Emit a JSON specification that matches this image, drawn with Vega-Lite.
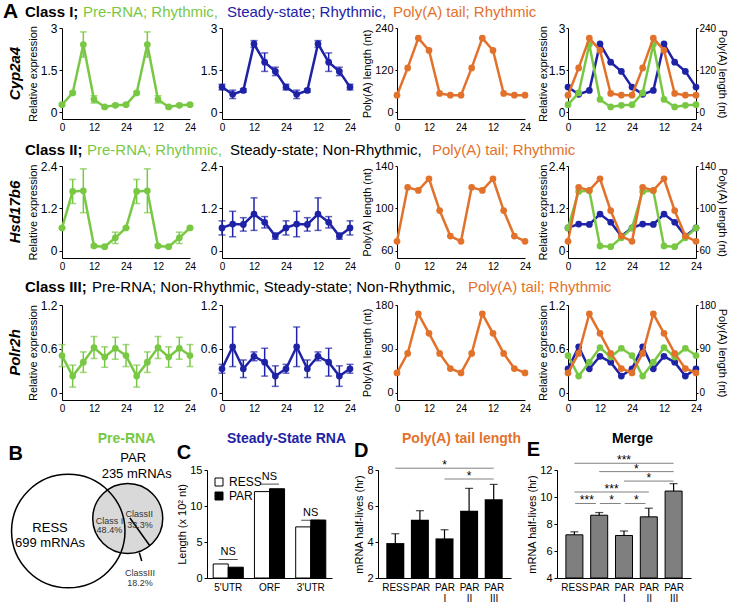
{
"$schema":"https://vega.github.io/schema/vega-lite/v6.json",
"background":"white",
"padding":{"left":3,"top":1,"right":0,"bottom":0},
"config":{"font":"Liberation Sans","view":{"stroke":null},"axis":{"grid":false,"domainColor":"black","tickColor":"black","labelColor":"black","titleColor":"black","labelFontSize":12,"titleFontSize":11,"titleFontWeight":"normal","tickSize":3,"labelPadding":2,"titlePadding":2}},
"datasets":{
"hdr":[
{"r":1,"k":0,"txt":"A","c":"k"},{"r":1,"k":1,"txt":"Class I;","c":"k"},{"r":1,"k":2,"txt":"Pre-RNA; Rhythmic,","c":"g"},{"r":1,"k":3,"txt":"Steady-state; Rhythmic,","c":"b"},{"r":1,"k":4,"txt":"Poly(A) tail; Rhythmic","c":"o"},
{"r":2,"k":1,"txt":"Class II;","c":"k"},{"r":2,"k":2,"txt":"Pre-RNA; Rhythmic,","c":"g"},{"r":2,"k":3,"txt":"Steady-state; Non-Rhythmic,","c":"k"},{"r":2,"k":4,"txt":"Poly(A) tail; Rhythmic","c":"o"},
{"r":3,"k":1,"txt":"Class III;","c":"k"},{"r":3,"k":2,"txt":"Pre-RNA; Non-Rhythmic, Steady-state; Non-Rhythmic,","c":"k"},{"r":3,"k":4,"txt":"Poly(A) tail; Rhythmic","c":"o"}
],
"ld":[{"t":0,"t2":12,"ph":"L"},{"t":12,"t2":24,"ph":"D"},{"t":24,"t2":36,"ph":"L"},{"t":36,"t2":48,"ph":"D"}],
"ts":[
{"g":"Cyp2a4","k":"pre","t":0,"v":0.26,"e":0.04},{"g":"Cyp2a4","k":"pre","t":4,"v":0.68,"e":0.05},{"g":"Cyp2a4","k":"pre","t":8,"v":2.41,"e":0.45},{"g":"Cyp2a4","k":"pre","t":12,"v":0.45,"e":0.13},{"g":"Cyp2a4","k":"pre","t":16,"v":0.18,"e":0.04},{"g":"Cyp2a4","k":"pre","t":20,"v":0.24,"e":0.04},{"g":"Cyp2a4","k":"pre","t":24,"v":0.26,"e":0.04},{"g":"Cyp2a4","k":"pre","t":28,"v":0.68,"e":0.05},{"g":"Cyp2a4","k":"pre","t":32,"v":2.41,"e":0.45},{"g":"Cyp2a4","k":"pre","t":36,"v":0.45,"e":0.13},{"g":"Cyp2a4","k":"pre","t":40,"v":0.18,"e":0.04},{"g":"Cyp2a4","k":"pre","t":44,"v":0.24,"e":0.04},{"g":"Cyp2a4","k":"pre","t":48,"v":0.26,"e":0.04},
{"g":"Cyp2a4","k":"ss","t":0,"v":0.89,"e":0.1},{"g":"Cyp2a4","k":"ss","t":4,"v":0.63,"e":0.15},{"g":"Cyp2a4","k":"ss","t":8,"v":0.77,"e":0.06},{"g":"Cyp2a4","k":"ss","t":12,"v":2.43,"e":0.12},{"g":"Cyp2a4","k":"ss","t":16,"v":1.78,"e":0.33},{"g":"Cyp2a4","k":"ss","t":20,"v":1.45,"e":0.15},{"g":"Cyp2a4","k":"ss","t":24,"v":0.89,"e":0.1},{"g":"Cyp2a4","k":"ss","t":28,"v":0.63,"e":0.15},{"g":"Cyp2a4","k":"ss","t":32,"v":0.77,"e":0.06},{"g":"Cyp2a4","k":"ss","t":36,"v":2.43,"e":0.12},{"g":"Cyp2a4","k":"ss","t":40,"v":1.78,"e":0.33},{"g":"Cyp2a4","k":"ss","t":44,"v":1.45,"e":0.15},{"g":"Cyp2a4","k":"ss","t":48,"v":0.89,"e":0.1},
{"g":"Cyp2a4","k":"pa","t":0,"v":48},{"g":"Cyp2a4","k":"pa","t":4,"v":126},{"g":"Cyp2a4","k":"pa","t":8,"v":211},{"g":"Cyp2a4","k":"pa","t":12,"v":176},{"g":"Cyp2a4","k":"pa","t":16,"v":53},{"g":"Cyp2a4","k":"pa","t":20,"v":48},{"g":"Cyp2a4","k":"pa","t":24,"v":48},{"g":"Cyp2a4","k":"pa","t":28,"v":126},{"g":"Cyp2a4","k":"pa","t":32,"v":211},{"g":"Cyp2a4","k":"pa","t":36,"v":176},{"g":"Cyp2a4","k":"pa","t":40,"v":53},{"g":"Cyp2a4","k":"pa","t":44,"v":48},{"g":"Cyp2a4","k":"pa","t":48,"v":48},
{"g":"Hsd17b6","k":"pre","t":0,"v":0.65,"e":0.02},{"g":"Hsd17b6","k":"pre","t":4,"v":1.68,"e":0.34},{"g":"Hsd17b6","k":"pre","t":8,"v":1.7,"e":0.62},{"g":"Hsd17b6","k":"pre","t":12,"v":0.14,"e":0.03},{"g":"Hsd17b6","k":"pre","t":16,"v":0.12,"e":0.03},{"g":"Hsd17b6","k":"pre","t":20,"v":0.37,"e":0.16},{"g":"Hsd17b6","k":"pre","t":24,"v":0.65,"e":0.02},{"g":"Hsd17b6","k":"pre","t":28,"v":1.68,"e":0.34},{"g":"Hsd17b6","k":"pre","t":32,"v":1.7,"e":0.62},{"g":"Hsd17b6","k":"pre","t":36,"v":0.14,"e":0.03},{"g":"Hsd17b6","k":"pre","t":40,"v":0.12,"e":0.03},{"g":"Hsd17b6","k":"pre","t":44,"v":0.37,"e":0.16},{"g":"Hsd17b6","k":"pre","t":48,"v":0.65,"e":0.02},
{"g":"Hsd17b6","k":"ss","t":0,"v":0.65,"e":0.2},{"g":"Hsd17b6","k":"ss","t":4,"v":0.76,"e":0.36},{"g":"Hsd17b6","k":"ss","t":8,"v":0.75,"e":0.19},{"g":"Hsd17b6","k":"ss","t":12,"v":1.04,"e":0.46},{"g":"Hsd17b6","k":"ss","t":16,"v":0.81,"e":0.16},{"g":"Hsd17b6","k":"ss","t":20,"v":0.42,"e":0.09},{"g":"Hsd17b6","k":"ss","t":24,"v":0.65,"e":0.2},{"g":"Hsd17b6","k":"ss","t":28,"v":0.76,"e":0.36},{"g":"Hsd17b6","k":"ss","t":32,"v":0.75,"e":0.19},{"g":"Hsd17b6","k":"ss","t":36,"v":1.04,"e":0.46},{"g":"Hsd17b6","k":"ss","t":40,"v":0.81,"e":0.16},{"g":"Hsd17b6","k":"ss","t":44,"v":0.42,"e":0.09},{"g":"Hsd17b6","k":"ss","t":48,"v":0.65,"e":0.2},
{"g":"Hsd17b6","k":"pa","t":0,"v":69},{"g":"Hsd17b6","k":"pa","t":4,"v":120},{"g":"Hsd17b6","k":"pa","t":8,"v":117},{"g":"Hsd17b6","k":"pa","t":12,"v":128},{"g":"Hsd17b6","k":"pa","t":16,"v":98},{"g":"Hsd17b6","k":"pa","t":20,"v":74},{"g":"Hsd17b6","k":"pa","t":24,"v":69},{"g":"Hsd17b6","k":"pa","t":28,"v":120},{"g":"Hsd17b6","k":"pa","t":32,"v":117},{"g":"Hsd17b6","k":"pa","t":36,"v":128},{"g":"Hsd17b6","k":"pa","t":40,"v":98},{"g":"Hsd17b6","k":"pa","t":44,"v":74},{"g":"Hsd17b6","k":"pa","t":48,"v":69},
{"g":"Polr2h","k":"pre","t":0,"v":0.51,"e":0.15},{"g":"Polr2h","k":"pre","t":4,"v":0.23,"e":0.15},{"g":"Polr2h","k":"pre","t":8,"v":0.42,"e":0.14},{"g":"Polr2h","k":"pre","t":12,"v":0.62,"e":0.15},{"g":"Polr2h","k":"pre","t":16,"v":0.49,"e":0.14},{"g":"Polr2h","k":"pre","t":20,"v":0.61,"e":0.15},{"g":"Polr2h","k":"pre","t":24,"v":0.51,"e":0.15},{"g":"Polr2h","k":"pre","t":28,"v":0.23,"e":0.15},{"g":"Polr2h","k":"pre","t":32,"v":0.42,"e":0.14},{"g":"Polr2h","k":"pre","t":36,"v":0.62,"e":0.15},{"g":"Polr2h","k":"pre","t":40,"v":0.49,"e":0.14},{"g":"Polr2h","k":"pre","t":44,"v":0.61,"e":0.15},{"g":"Polr2h","k":"pre","t":48,"v":0.51,"e":0.15},
{"g":"Polr2h","k":"ss","t":0,"v":0.33,"e":0.06},{"g":"Polr2h","k":"ss","t":4,"v":0.63,"e":0.27},{"g":"Polr2h","k":"ss","t":8,"v":0.33,"e":0.12},{"g":"Polr2h","k":"ss","t":12,"v":0.5,"e":0.06},{"g":"Polr2h","k":"ss","t":16,"v":0.42,"e":0.19},{"g":"Polr2h","k":"ss","t":20,"v":0.23,"e":0.14},{"g":"Polr2h","k":"ss","t":24,"v":0.33,"e":0.06},{"g":"Polr2h","k":"ss","t":28,"v":0.63,"e":0.27},{"g":"Polr2h","k":"ss","t":32,"v":0.33,"e":0.12},{"g":"Polr2h","k":"ss","t":36,"v":0.5,"e":0.06},{"g":"Polr2h","k":"ss","t":40,"v":0.42,"e":0.19},{"g":"Polr2h","k":"ss","t":44,"v":0.23,"e":0.14},{"g":"Polr2h","k":"ss","t":48,"v":0.33,"e":0.06},
{"g":"Polr2h","k":"pa","t":0,"v":41},{"g":"Polr2h","k":"pa","t":4,"v":81},{"g":"Polr2h","k":"pa","t":8,"v":162},{"g":"Polr2h","k":"pa","t":12,"v":122},{"g":"Polr2h","k":"pa","t":16,"v":81},{"g":"Polr2h","k":"pa","t":20,"v":50},{"g":"Polr2h","k":"pa","t":24,"v":41},{"g":"Polr2h","k":"pa","t":28,"v":81},{"g":"Polr2h","k":"pa","t":32,"v":162},{"g":"Polr2h","k":"pa","t":36,"v":122},{"g":"Polr2h","k":"pa","t":40,"v":81},{"g":"Polr2h","k":"pa","t":44,"v":50},{"g":"Polr2h","k":"pa","t":48,"v":41}
],
"sets":[{"set":"RESS","n":699,"u":39.0,"w":29.9},{"set":"PAR","n":235,"u":76.9,"w":37.9}],
"vlines":[{"u":78.3,"w":38.2,"u2":91.1,"w2":20.4},{"u":84.3,"w":16.1,"u2":85.8,"w2":10.8}],
"vlab":[
{"kind":"set","lbl":"RESS","u":27.4,"w":31.8},{"kind":"set","lbl":"699 mRNAs","u":27.4,"w":22.5},{"kind":"set","lbl":"PAR","u":80.4,"w":76.6},{"kind":"set","lbl":"235 mRNAs","u":82.6,"w":66.4},
{"kind":"class","lbl":"Class I","u":65.2,"w":36.3},{"kind":"class","lbl":"48.4%","u":65.2,"w":30.4},{"kind":"class","lbl":"ClassII","u":84.3,"w":40.6},{"kind":"class","lbl":"33.3%","u":84.7,"w":33.8},{"kind":"class","lbl":"ClassIII","u":84.7,"w":3.4},{"kind":"class","lbl":"18.2%","u":84.7,"w":-3.0}
],
"len":[{"reg":"5'UTR","set":"RESS","len":1.95},{"reg":"5'UTR","set":"PAR","len":1.5},{"reg":"ORF","set":"RESS","len":12.0},{"reg":"ORF","set":"PAR","len":12.4},{"reg":"3'UTR","set":"RESS","len":7.1},{"reg":"3'UTR","set":"PAR","len":8.05}],
"ns":[{"reg":"5'UTR","y":2.57,"lbl":"NS"},{"reg":"ORF","y":13.04,"lbl":"NS"},{"reg":"3'UTR","y":8.02,"lbl":"NS"}],
"hl":[
{"p":"D","grp":"RESS","i":1,"v":3.94,"e":0.52},{"p":"D","grp":"PAR","i":2,"v":5.24,"e":0.5},{"p":"D","grp":"PAR I","i":3,"v":4.2,"e":0.48},{"p":"D","grp":"PAR II","i":4,"v":5.74,"e":1.24},{"p":"D","grp":"PAR III","i":5,"v":6.38,"e":0.82},
{"p":"E","grp":"RESS","i":1,"v":7.2,"e":0.22},{"p":"E","grp":"PAR","i":2,"v":8.65,"e":0.2},{"p":"E","grp":"PAR I","i":3,"v":7.15,"e":0.33},{"p":"E","grp":"PAR II","i":4,"v":8.53,"e":0.64},{"p":"E","grp":"PAR III","i":5,"v":10.44,"e":0.55}
],
"sig":[
{"p":"D","a":1,"b":5,"y":8.1,"s":"*"},{"p":"D","a":3,"b":5,"y":7.5,"s":"*"},
{"p":"E","a":1,"b":5,"y":12.5,"s":"***"},{"p":"E","a":2,"b":5,"y":11.88,"s":"*"},{"p":"E","a":3,"b":5,"y":11.18,"s":"*"},{"p":"E","a":1,"b":4,"y":10.37,"s":"***"},{"p":"E","a":1,"b":2,"y":9.52,"s":"***"},{"p":"E","a":2,"b":3,"y":9.52,"s":"*"},{"p":"E","a":3,"b":4,"y":9.52,"s":"*"}
]
},
"spacing":-5,
"vconcat":[
{"spacing":0,"vconcat":[
{"width":600,"height":20,"data":{"name":"hdr"},"transform":[{"filter":"datum.r == 1"}],
 "encoding":{"x":{"field":"k","type":"quantitative","scale":{"type":"linear","domain":[0,1,2,3,4],"range":[-59,-37,21,165,331]},"axis":null},"text":{"field":"txt"}},
 "layer":[
  {"transform":[{"filter":"datum.k == 0"}],"mark":{"type":"text","align":"left","baseline":"middle","fontSize":21,"fontWeight":"bold","dy":1}},
  {"transform":[{"filter":"datum.k == 1"}],"mark":{"type":"text","align":"left","baseline":"middle","fontSize":15,"fontWeight":"bold","dy":1}},
  {"transform":[{"filter":"datum.k >= 2"}],"mark":{"type":"text","align":"left","baseline":"middle","fontSize":15,"dy":1},"encoding":{"color":{"field":"c","type":"nominal","scale":{"domain":["k","g","b","o"],"range":["black","#79c843","#1e22a6","#e2722b"]},"legend":null}}}
 ]},
{"bounds":"flush","spacing":0,"hconcat":[
 {"width":128,"height":91,"title":{"text":"Cyp2a4","orient":"left","fontSize":15,"fontStyle":"italic","fontWeight":"bold","offset":4},
  "encoding":{"x":{"field":"t","type":"quantitative","scale":{"domain":[0,48],"nice":false,"range":[0,128]},"axis":{"values":[0,12,24,36,48],"labelExpr":"datum.value > 24 ? '' + (datum.value - 24) : datum.label","labelFlush":false,"labelOverlap":false,"ticks":false,"tickSize":0,"labelPadding":3,"labelFontSize":10},"title":null},
   "y":{"field":"v","type":"quantitative","scale":{"domain":[-0.25,3],"nice":false,"zero":false},"axis":{"values":[0,1.5,3],"labelExpr":"'' + datum.value"},"title":"Relative expression"}},
  "layer":[
   {"data":{"name":"ld"},"mark":{"type":"rect","stroke":"black","strokeWidth":1},"encoding":{"x":{"field":"t","type":"quantitative","scale":{"domain":[0,48],"nice":false,"range":[0,128]},"title":null},"x2":{"field":"t2"},"y":{"datum":-0.25,"type":"quantitative","scale":{"domain":[-0.25,3],"nice":false,"zero":false},"axis":{"values":[0,1.5,3],"labelExpr":"'' + datum.value"},"title":"Relative expression"},"y2":{"datum":0},"fill":{"condition":{"test":"datum.ph == 'D'","value":"black"},"value":"white"}}},
   {"data":{"name":"ts"},"transform":[{"filter":"datum.g=='Cyp2a4' && datum.k=='pre'"}],"mark":{"type":"errorbar","color":"#79c843","thickness":1.5,"ticks":{"size":7,"color":"#79c843"}},"encoding":{"yError":{"field":"e"}}},
   {"data":{"name":"ts"},"transform":[{"filter":"datum.g=='Cyp2a4' && datum.k=='pre'"}],"mark":{"type":"line","color":"#79c843","strokeWidth":2.5,"point":{"filled":true,"size":45,"color":"#79c843"}},"encoding":{}}
  ]},
 {"width":160,"height":91,
  "encoding":{"x":{"field":"t","type":"quantitative","scale":{"domain":[0,48],"nice":false,"range":[32,160]},"axis":{"values":[0,12,24,36,48],"labelExpr":"datum.value > 24 ? '' + (datum.value - 24) : datum.label","labelFlush":false,"labelOverlap":false,"ticks":false,"tickSize":0,"labelPadding":3,"labelFontSize":10},"title":null},
   "y":{"field":"v","type":"quantitative","scale":{"domain":[-0.25,3],"nice":false,"zero":false},"axis":{"values":[0,1.5,3],"labelExpr":"'' + datum.value","offset":-32},"title":null}},
  "layer":[
   {"data":{"name":"ld"},"mark":{"type":"rect","stroke":"black","strokeWidth":1},"encoding":{"x":{"field":"t","type":"quantitative","scale":{"domain":[0,48],"nice":false,"range":[32,160]},"title":null},"x2":{"field":"t2"},"y":{"datum":-0.25,"type":"quantitative","scale":{"domain":[-0.25,3],"nice":false,"zero":false},"axis":{"values":[0,1.5,3],"labelExpr":"'' + datum.value","offset":-32},"title":null},"y2":{"datum":0},"fill":{"condition":{"test":"datum.ph == 'D'","value":"black"},"value":"white"}}},
   {"data":{"name":"ts"},"transform":[{"filter":"datum.g=='Cyp2a4' && datum.k=='ss'"}],"mark":{"type":"errorbar","color":"#1e22a6","thickness":1.5,"ticks":{"size":7,"color":"#1e22a6"}},"encoding":{"yError":{"field":"e"}}},
   {"data":{"name":"ts"},"transform":[{"filter":"datum.g=='Cyp2a4' && datum.k=='ss'"}],"mark":{"type":"line","color":"#1e22a6","strokeWidth":2.5,"point":{"filled":true,"size":45,"color":"#1e22a6"}},"encoding":{}}
  ]},
 {"width":175,"height":91,
  "encoding":{"x":{"field":"t","type":"quantitative","scale":{"domain":[0,48],"nice":false,"range":[47,175]},"axis":{"values":[0,12,24,36,48],"labelExpr":"datum.value > 24 ? '' + (datum.value - 24) : datum.label","labelFlush":false,"labelOverlap":false,"ticks":false,"tickSize":0,"labelPadding":3,"labelFontSize":10},"title":null},
   "y":{"field":"v","type":"quantitative","scale":{"domain":[-20,240],"nice":false,"zero":false},"axis":{"values":[0,120,240],"labelExpr":"'' + datum.value","offset":-47,"labelFontSize":11,"tickSize":2},"title":"Poly(A) length (nt)"}},
  "layer":[
   {"data":{"name":"ld"},"mark":{"type":"rect","stroke":"black","strokeWidth":1},"encoding":{"x":{"field":"t","type":"quantitative","scale":{"domain":[0,48],"nice":false,"range":[47,175]},"title":null},"x2":{"field":"t2"},"y":{"datum":-20,"type":"quantitative","scale":{"domain":[-20,240],"nice":false,"zero":false},"axis":{"values":[0,120,240],"labelExpr":"'' + datum.value","offset":-47,"labelFontSize":11,"tickSize":2},"title":"Poly(A) length (nt)"},"y2":{"datum":0},"fill":{"condition":{"test":"datum.ph == 'D'","value":"black"},"value":"white"}}},
   {"data":{"name":"ts"},"transform":[{"filter":"datum.g=='Cyp2a4' && datum.k=='pa'"}],"mark":{"type":"line","color":"#e2722b","strokeWidth":2.5,"point":{"filled":true,"size":45,"color":"#e2722b"}},"encoding":{}}
  ]},
 {"width":171,"height":91,
  "layer":[
   {"encoding":{"x":{"field":"t","type":"quantitative","scale":{"domain":[0,48],"nice":false,"range":[43,171]},"axis":{"values":[0,12,24,36,48],"labelExpr":"datum.value > 24 ? '' + (datum.value - 24) : datum.label","labelFlush":false,"labelOverlap":false,"ticks":false,"tickSize":0,"labelPadding":3,"labelFontSize":10},"title":null},
     "y":{"field":"v","type":"quantitative","scale":{"domain":[-0.25,3],"nice":false,"zero":false},"axis":{"values":[0,1.5,3],"labelExpr":"'' + datum.value","offset":-43,"tickSize":2,"labelPadding":1,"titlePadding":0},"title":"Relative expression"}},
    "layer":[
     {"data":{"name":"ld"},"mark":{"type":"rect","stroke":"black","strokeWidth":1},"encoding":{"x":{"field":"t","type":"quantitative","scale":{"domain":[0,48],"nice":false,"range":[43,171]},"title":null},"x2":{"field":"t2"},"y":{"datum":-0.25,"type":"quantitative","scale":{"domain":[-0.25,3],"nice":false,"zero":false},"axis":{"values":[0,1.5,3],"labelExpr":"'' + datum.value","offset":-43,"tickSize":2,"labelPadding":1,"titlePadding":0},"title":"Relative expression"},"y2":{"datum":0},"fill":{"condition":{"test":"datum.ph == 'D'","value":"black"},"value":"white"}}},
     {"data":{"name":"ts"},"transform":[{"filter":"datum.g=='Cyp2a4' && datum.k=='ss'"}],"mark":{"type":"line","color":"#1e22a6","strokeWidth":2.5,"point":{"filled":true,"size":45,"color":"#1e22a6"}},"encoding":{}},
     {"data":{"name":"ts"},"transform":[{"filter":"datum.g=='Cyp2a4' && datum.k=='pre'"}],"mark":{"type":"line","color":"#79c843","strokeWidth":2.5,"point":{"filled":true,"size":45,"color":"#79c843"}},"encoding":{}}
    ]},
   {"data":{"name":"ts"},"transform":[{"filter":"datum.g=='Cyp2a4' && datum.k=='pa'"}],"mark":{"type":"line","color":"#e2722b","strokeWidth":2.5,"point":{"filled":true,"size":45,"color":"#e2722b"}},
    "encoding":{"x":{"field":"t","type":"quantitative","scale":{"domain":[0,48],"nice":false,"range":[43,171]},"axis":{"values":[0,12,24,36,48],"labelExpr":"datum.value > 24 ? '' + (datum.value - 24) : datum.label","labelFlush":false,"labelOverlap":false,"ticks":false,"tickSize":0,"labelPadding":3,"labelFontSize":10},"title":null},"y":{"field":"v","type":"quantitative","scale":{"domain":[-20,240],"nice":false,"zero":false},"axis":{"orient":"right","values":[0,120,240],"labelExpr":"'' + datum.value","tickSize":2,"labelPadding":1,"titlePadding":1,"labelFontSize":10},"title":"Poly(A) length (nt)"}}}
  ],
  "resolve":{"scale":{"y":"independent"}}}
]},
{"width":600,"height":28,"data":{"name":"hdr"},"transform":[{"filter":"datum.r == 2"}],
 "encoding":{"x":{"field":"k","type":"quantitative","scale":{"type":"linear","domain":[0,1,2,3,4],"range":[-59,-37,25,168,370]},"axis":null},"text":{"field":"txt"}},
 "layer":[
  {"transform":[{"filter":"datum.k == 1"}],"mark":{"type":"text","align":"left","baseline":"middle","fontSize":15,"fontWeight":"bold","dy":4}},
  {"transform":[{"filter":"datum.k >= 2"}],"mark":{"type":"text","align":"left","baseline":"middle","fontSize":15,"dy":4},"encoding":{"color":{"field":"c","type":"nominal","scale":{"domain":["k","g","b","o"],"range":["black","#79c843","#1e22a6","#e2722b"]},"legend":null}}}
 ]},
{"bounds":"flush","spacing":0,"hconcat":[
 {"width":128,"height":92,"title":{"text":"Hsd17b6","orient":"left","fontSize":15,"fontStyle":"italic","fontWeight":"bold","offset":4},
  "encoding":{"x":{"field":"t","type":"quantitative","scale":{"domain":[0,48],"nice":false,"range":[0,128]},"axis":{"values":[0,12,24,36,48],"labelExpr":"datum.value > 24 ? '' + (datum.value - 24) : datum.label","labelFlush":false,"labelOverlap":false,"ticks":false,"tickSize":0,"labelPadding":3,"labelFontSize":10},"title":null},
   "y":{"field":"v","type":"quantitative","scale":{"domain":[-0.2,2.4],"nice":false,"zero":false},"axis":{"values":[0,1.2,2.4],"labelExpr":"'' + datum.value"},"title":"Relative expression"}},
  "layer":[
   {"data":{"name":"ld"},"mark":{"type":"rect","stroke":"black","strokeWidth":1},"encoding":{"x":{"field":"t","type":"quantitative","scale":{"domain":[0,48],"nice":false,"range":[0,128]},"title":null},"x2":{"field":"t2"},"y":{"datum":-0.2,"type":"quantitative","scale":{"domain":[-0.2,2.4],"nice":false,"zero":false},"axis":{"values":[0,1.2,2.4],"labelExpr":"'' + datum.value"},"title":"Relative expression"},"y2":{"datum":0},"fill":{"condition":{"test":"datum.ph == 'D'","value":"black"},"value":"white"}}},
   {"data":{"name":"ts"},"transform":[{"filter":"datum.g=='Hsd17b6' && datum.k=='pre'"}],"mark":{"type":"errorbar","color":"#79c843","thickness":1.5,"ticks":{"size":7,"color":"#79c843"}},"encoding":{"yError":{"field":"e"}}},
   {"data":{"name":"ts"},"transform":[{"filter":"datum.g=='Hsd17b6' && datum.k=='pre'"}],"mark":{"type":"line","color":"#79c843","strokeWidth":2.5,"point":{"filled":true,"size":45,"color":"#79c843"}},"encoding":{}}
  ]},
 {"width":160,"height":92,
  "encoding":{"x":{"field":"t","type":"quantitative","scale":{"domain":[0,48],"nice":false,"range":[32,160]},"axis":{"values":[0,12,24,36,48],"labelExpr":"datum.value > 24 ? '' + (datum.value - 24) : datum.label","labelFlush":false,"labelOverlap":false,"ticks":false,"tickSize":0,"labelPadding":3,"labelFontSize":10},"title":null},
   "y":{"field":"v","type":"quantitative","scale":{"domain":[-0.2,2.4],"nice":false,"zero":false},"axis":{"values":[0,1.2,2.4],"labelExpr":"'' + datum.value","offset":-32},"title":null}},
  "layer":[
   {"data":{"name":"ld"},"mark":{"type":"rect","stroke":"black","strokeWidth":1},"encoding":{"x":{"field":"t","type":"quantitative","scale":{"domain":[0,48],"nice":false,"range":[32,160]},"title":null},"x2":{"field":"t2"},"y":{"datum":-0.2,"type":"quantitative","scale":{"domain":[-0.2,2.4],"nice":false,"zero":false},"axis":{"values":[0,1.2,2.4],"labelExpr":"'' + datum.value","offset":-32},"title":null},"y2":{"datum":0},"fill":{"condition":{"test":"datum.ph == 'D'","value":"black"},"value":"white"}}},
   {"data":{"name":"ts"},"transform":[{"filter":"datum.g=='Hsd17b6' && datum.k=='ss'"}],"mark":{"type":"errorbar","color":"#1e22a6","thickness":1.5,"ticks":{"size":7,"color":"#1e22a6"}},"encoding":{"yError":{"field":"e"}}},
   {"data":{"name":"ts"},"transform":[{"filter":"datum.g=='Hsd17b6' && datum.k=='ss'"}],"mark":{"type":"line","color":"#1e22a6","strokeWidth":2.5,"point":{"filled":true,"size":45,"color":"#1e22a6"}},"encoding":{}}
  ]},
 {"width":175,"height":92,
  "encoding":{"x":{"field":"t","type":"quantitative","scale":{"domain":[0,48],"nice":false,"range":[47,175]},"axis":{"values":[0,12,24,36,48],"labelExpr":"datum.value > 24 ? '' + (datum.value - 24) : datum.label","labelFlush":false,"labelOverlap":false,"ticks":false,"tickSize":0,"labelPadding":3,"labelFontSize":10},"title":null},
   "y":{"field":"v","type":"quantitative","scale":{"domain":[53.33,140],"nice":false,"zero":false},"axis":{"values":[60,100,140],"labelExpr":"'' + datum.value","offset":-47,"labelFontSize":11,"tickSize":2},"title":"Poly(A) length (nt)"}},
  "layer":[
   {"data":{"name":"ld"},"mark":{"type":"rect","stroke":"black","strokeWidth":1},"encoding":{"x":{"field":"t","type":"quantitative","scale":{"domain":[0,48],"nice":false,"range":[47,175]},"title":null},"x2":{"field":"t2"},"y":{"datum":53.33,"type":"quantitative","scale":{"domain":[53.33,140],"nice":false,"zero":false},"axis":{"values":[60,100,140],"labelExpr":"'' + datum.value","offset":-47,"labelFontSize":11,"tickSize":2},"title":"Poly(A) length (nt)"},"y2":{"datum":60},"fill":{"condition":{"test":"datum.ph == 'D'","value":"black"},"value":"white"}}},
   {"data":{"name":"ts"},"transform":[{"filter":"datum.g=='Hsd17b6' && datum.k=='pa'"}],"mark":{"type":"line","color":"#e2722b","strokeWidth":2.5,"point":{"filled":true,"size":45,"color":"#e2722b"}},"encoding":{}}
  ]},
 {"width":171,"height":92,
  "layer":[
   {"encoding":{"x":{"field":"t","type":"quantitative","scale":{"domain":[0,48],"nice":false,"range":[43,171]},"axis":{"values":[0,12,24,36,48],"labelExpr":"datum.value > 24 ? '' + (datum.value - 24) : datum.label","labelFlush":false,"labelOverlap":false,"ticks":false,"tickSize":0,"labelPadding":3,"labelFontSize":10},"title":null},
     "y":{"field":"v","type":"quantitative","scale":{"domain":[-0.2,2.4],"nice":false,"zero":false},"axis":{"values":[0,1.2,2.4],"labelExpr":"'' + datum.value","offset":-43,"tickSize":2,"labelPadding":1,"titlePadding":0},"title":"Relative expression"}},
    "layer":[
     {"data":{"name":"ld"},"mark":{"type":"rect","stroke":"black","strokeWidth":1},"encoding":{"x":{"field":"t","type":"quantitative","scale":{"domain":[0,48],"nice":false,"range":[43,171]},"title":null},"x2":{"field":"t2"},"y":{"datum":-0.2,"type":"quantitative","scale":{"domain":[-0.2,2.4],"nice":false,"zero":false},"axis":{"values":[0,1.2,2.4],"labelExpr":"'' + datum.value","offset":-43,"tickSize":2,"labelPadding":1,"titlePadding":0},"title":"Relative expression"},"y2":{"datum":0},"fill":{"condition":{"test":"datum.ph == 'D'","value":"black"},"value":"white"}}},
     {"data":{"name":"ts"},"transform":[{"filter":"datum.g=='Hsd17b6' && datum.k=='ss'"}],"mark":{"type":"line","color":"#1e22a6","strokeWidth":2.5,"point":{"filled":true,"size":45,"color":"#1e22a6"}},"encoding":{}},
     {"data":{"name":"ts"},"transform":[{"filter":"datum.g=='Hsd17b6' && datum.k=='pre'"}],"mark":{"type":"line","color":"#79c843","strokeWidth":2.5,"point":{"filled":true,"size":45,"color":"#79c843"}},"encoding":{}}
    ]},
   {"data":{"name":"ts"},"transform":[{"filter":"datum.g=='Hsd17b6' && datum.k=='pa'"}],"mark":{"type":"line","color":"#e2722b","strokeWidth":2.5,"point":{"filled":true,"size":45,"color":"#e2722b"}},
    "encoding":{"x":{"field":"t","type":"quantitative","scale":{"domain":[0,48],"nice":false,"range":[43,171]},"axis":{"values":[0,12,24,36,48],"labelExpr":"datum.value > 24 ? '' + (datum.value - 24) : datum.label","labelFlush":false,"labelOverlap":false,"ticks":false,"tickSize":0,"labelPadding":3,"labelFontSize":10},"title":null},"y":{"field":"v","type":"quantitative","scale":{"domain":[53.33,140],"nice":false,"zero":false},"axis":{"orient":"right","values":[60,100,140],"labelExpr":"'' + datum.value","tickSize":2,"labelPadding":1,"titlePadding":1,"labelFontSize":10},"title":"Poly(A) length (nt)"}}}
  ],
  "resolve":{"scale":{"y":"independent"}}}
]},
{"width":600,"height":28,"data":{"name":"hdr"},"transform":[{"filter":"datum.r == 3"}],
 "encoding":{"x":{"field":"k","type":"quantitative","scale":{"type":"linear","domain":[0,1,2,3,4],"range":[-59,-37,30,200,406]},"axis":null},"text":{"field":"txt"}},
 "layer":[
  {"transform":[{"filter":"datum.k == 1"}],"mark":{"type":"text","align":"left","baseline":"middle","fontSize":15,"fontWeight":"bold","dy":2}},
  {"transform":[{"filter":"datum.k >= 2"}],"mark":{"type":"text","align":"left","baseline":"middle","fontSize":15,"dy":2},"encoding":{"color":{"field":"c","type":"nominal","scale":{"domain":["k","g","b","o"],"range":["black","#79c843","#1e22a6","#e2722b"]},"legend":null}}}
 ]},
{"bounds":"flush","spacing":0,"hconcat":[
 {"width":128,"height":95,"title":{"text":"Polr2h","orient":"left","fontSize":15,"fontStyle":"italic","fontWeight":"bold","offset":4},
  "encoding":{"x":{"field":"t","type":"quantitative","scale":{"domain":[0,48],"nice":false,"range":[0,128]},"axis":{"values":[0,12,24,36,48],"labelExpr":"datum.value > 24 ? '' + (datum.value - 24) : datum.label","labelFlush":false,"labelOverlap":false,"ticks":false,"tickSize":0,"labelPadding":3,"labelFontSize":10,"titleFontWeight":"bold","titleFontSize":14,"titleColor":"#79c843","titlePadding":18},"title":"Pre-RNA"},
   "y":{"field":"v","type":"quantitative","scale":{"domain":[-0.096,1.2],"nice":false,"zero":false},"axis":{"values":[0,0.6,1.2],"labelExpr":"'' + datum.value"},"title":"Relative expression"}},
  "layer":[
   {"data":{"name":"ld"},"mark":{"type":"rect","stroke":"black","strokeWidth":1},"encoding":{"x":{"field":"t","type":"quantitative","scale":{"domain":[0,48],"nice":false,"range":[0,128]},"title":"Pre-RNA"},"x2":{"field":"t2"},"y":{"datum":-0.096,"type":"quantitative","scale":{"domain":[-0.096,1.2],"nice":false,"zero":false},"axis":{"values":[0,0.6,1.2],"labelExpr":"'' + datum.value"},"title":"Relative expression"},"y2":{"datum":0},"fill":{"condition":{"test":"datum.ph == 'D'","value":"black"},"value":"white"}}},
   {"data":{"name":"ts"},"transform":[{"filter":"datum.g=='Polr2h' && datum.k=='pre'"}],"mark":{"type":"errorbar","color":"#79c843","thickness":1.5,"ticks":{"size":7,"color":"#79c843"}},"encoding":{"yError":{"field":"e"}}},
   {"data":{"name":"ts"},"transform":[{"filter":"datum.g=='Polr2h' && datum.k=='pre'"}],"mark":{"type":"line","color":"#79c843","strokeWidth":2.5,"point":{"filled":true,"size":45,"color":"#79c843"}},"encoding":{}}
  ]},
 {"width":160,"height":95,
  "encoding":{"x":{"field":"t","type":"quantitative","scale":{"domain":[0,48],"nice":false,"range":[32,160]},"axis":{"values":[0,12,24,36,48],"labelExpr":"datum.value > 24 ? '' + (datum.value - 24) : datum.label","labelFlush":false,"labelOverlap":false,"ticks":false,"tickSize":0,"labelPadding":3,"labelFontSize":10,"titleFontWeight":"bold","titleFontSize":14,"titleColor":"#1e22a6","titlePadding":18,"titleX":96},"title":"Steady-State RNA"},
   "y":{"field":"v","type":"quantitative","scale":{"domain":[-0.096,1.2],"nice":false,"zero":false},"axis":{"values":[0,0.6,1.2],"labelExpr":"'' + datum.value","offset":-32},"title":null}},
  "layer":[
   {"data":{"name":"ld"},"mark":{"type":"rect","stroke":"black","strokeWidth":1},"encoding":{"x":{"field":"t","type":"quantitative","scale":{"domain":[0,48],"nice":false,"range":[32,160]},"title":"Steady-State RNA"},"x2":{"field":"t2"},"y":{"datum":-0.096,"type":"quantitative","scale":{"domain":[-0.096,1.2],"nice":false,"zero":false},"axis":{"values":[0,0.6,1.2],"labelExpr":"'' + datum.value","offset":-32},"title":null},"y2":{"datum":0},"fill":{"condition":{"test":"datum.ph == 'D'","value":"black"},"value":"white"}}},
   {"data":{"name":"ts"},"transform":[{"filter":"datum.g=='Polr2h' && datum.k=='ss'"}],"mark":{"type":"errorbar","color":"#1e22a6","thickness":1.5,"ticks":{"size":7,"color":"#1e22a6"}},"encoding":{"yError":{"field":"e"}}},
   {"data":{"name":"ts"},"transform":[{"filter":"datum.g=='Polr2h' && datum.k=='ss'"}],"mark":{"type":"line","color":"#1e22a6","strokeWidth":2.5,"point":{"filled":true,"size":45,"color":"#1e22a6"}},"encoding":{}}
  ]},
 {"width":175,"height":95,
  "encoding":{"x":{"field":"t","type":"quantitative","scale":{"domain":[0,48],"nice":false,"range":[47,175]},"axis":{"values":[0,12,24,36,48],"labelExpr":"datum.value > 24 ? '' + (datum.value - 24) : datum.label","labelFlush":false,"labelOverlap":false,"ticks":false,"tickSize":0,"labelPadding":3,"labelFontSize":10,"titleFontWeight":"bold","titleFontSize":14,"titleColor":"#e2722b","titlePadding":18,"titleX":111},"title":"Poly(A) tail length"},
   "y":{"field":"v","type":"quantitative","scale":{"domain":[-14.4,180],"nice":false,"zero":false},"axis":{"values":[0,90,180],"labelExpr":"'' + datum.value","offset":-47,"labelFontSize":11,"tickSize":2},"title":"Poly(A) length (nt)"}},
  "layer":[
   {"data":{"name":"ld"},"mark":{"type":"rect","stroke":"black","strokeWidth":1},"encoding":{"x":{"field":"t","type":"quantitative","scale":{"domain":[0,48],"nice":false,"range":[47,175]},"title":"Poly(A) tail length"},"x2":{"field":"t2"},"y":{"datum":-14.4,"type":"quantitative","scale":{"domain":[-14.4,180],"nice":false,"zero":false},"axis":{"values":[0,90,180],"labelExpr":"'' + datum.value","offset":-47,"labelFontSize":11,"tickSize":2},"title":"Poly(A) length (nt)"},"y2":{"datum":0},"fill":{"condition":{"test":"datum.ph == 'D'","value":"black"},"value":"white"}}},
   {"data":{"name":"ts"},"transform":[{"filter":"datum.g=='Polr2h' && datum.k=='pa'"}],"mark":{"type":"line","color":"#e2722b","strokeWidth":2.5,"point":{"filled":true,"size":45,"color":"#e2722b"}},"encoding":{}}
  ]},
 {"width":171,"height":95,
  "layer":[
   {"encoding":{"x":{"field":"t","type":"quantitative","scale":{"domain":[0,48],"nice":false,"range":[43,171]},"axis":{"values":[0,12,24,36,48],"labelExpr":"datum.value > 24 ? '' + (datum.value - 24) : datum.label","labelFlush":false,"labelOverlap":false,"ticks":false,"tickSize":0,"labelPadding":3,"labelFontSize":10,"titleFontWeight":"bold","titleFontSize":14,"titleColor":"black","titlePadding":18,"titleX":107},"title":"Merge"},
     "y":{"field":"v","type":"quantitative","scale":{"domain":[-0.096,1.2],"nice":false,"zero":false},"axis":{"values":[0,0.6,1.2],"labelExpr":"'' + datum.value","offset":-43,"tickSize":2,"labelPadding":1,"titlePadding":0},"title":"Relative expression"}},
    "layer":[
     {"data":{"name":"ld"},"mark":{"type":"rect","stroke":"black","strokeWidth":1},"encoding":{"x":{"field":"t","type":"quantitative","scale":{"domain":[0,48],"nice":false,"range":[43,171]},"title":"Merge"},"x2":{"field":"t2"},"y":{"datum":-0.096,"type":"quantitative","scale":{"domain":[-0.096,1.2],"nice":false,"zero":false},"axis":{"values":[0,0.6,1.2],"labelExpr":"'' + datum.value","offset":-43,"tickSize":2,"labelPadding":1,"titlePadding":0},"title":"Relative expression"},"y2":{"datum":0},"fill":{"condition":{"test":"datum.ph == 'D'","value":"black"},"value":"white"}}},
     {"data":{"name":"ts"},"transform":[{"filter":"datum.g=='Polr2h' && datum.k=='ss'"}],"mark":{"type":"line","color":"#1e22a6","strokeWidth":2.5,"point":{"filled":true,"size":45,"color":"#1e22a6"}},"encoding":{}},
     {"data":{"name":"ts"},"transform":[{"filter":"datum.g=='Polr2h' && datum.k=='pre'"}],"mark":{"type":"line","color":"#79c843","strokeWidth":2.5,"point":{"filled":true,"size":45,"color":"#79c843"}},"encoding":{}}
    ]},
   {"data":{"name":"ts"},"transform":[{"filter":"datum.g=='Polr2h' && datum.k=='pa'"}],"mark":{"type":"line","color":"#e2722b","strokeWidth":2.5,"point":{"filled":true,"size":45,"color":"#e2722b"}},
    "encoding":{"x":{"field":"t","type":"quantitative","scale":{"domain":[0,48],"nice":false,"range":[43,171]},"axis":{"values":[0,12,24,36,48],"labelExpr":"datum.value > 24 ? '' + (datum.value - 24) : datum.label","labelFlush":false,"labelOverlap":false,"ticks":false,"tickSize":0,"labelPadding":3,"labelFontSize":10,"titleFontWeight":"bold","titleFontSize":14,"titleColor":"black","titlePadding":18,"titleX":107},"title":"Merge"},"y":{"field":"v","type":"quantitative","scale":{"domain":[-14.4,180],"nice":false,"zero":false},"axis":{"orient":"right","values":[0,90,180],"labelExpr":"'' + datum.value","tickSize":2,"labelPadding":1,"titlePadding":1,"labelFontSize":10},"title":"Poly(A) length (nt)"}}}
  ],
  "resolve":{"scale":{"y":"independent"}}}
]}
]},
{"bounds":"flush","spacing":46,"resolve":{"legend":{"fill":"independent"}},"hconcat":[
 {"width":99,"height":108,"title":{"text":"B","anchor":"start","fontSize":20,"fontWeight":"bold","offset":-12},
  "encoding":{"x":{"field":"u","type":"quantitative","scale":{"domain":[35.0,98.1],"nice":false,"zero":false},"axis":null},"y":{"field":"w","type":"quantitative","scale":{"domain":[0,68.8],"nice":false,"zero":false},"axis":null}},
  "layer":[
   {"data":{"name":"sets"},"transform":[{"filter":"datum.set=='PAR'"}],"mark":{"type":"point","shape":"circle","filled":true,"color":"#d9d9d9","stroke":"black","strokeWidth":1.5,"opacity":1},"encoding":{"size":{"field":"n","type":"quantitative","scale":{"domain":[235,699],"range":[4902,12868],"zero":false},"legend":null}}},
   {"data":{"name":"sets"},"transform":[{"filter":"datum.set=='RESS'"}],"mark":{"type":"point","shape":"circle","filled":false,"color":"black","strokeWidth":1.5,"opacity":1},"encoding":{"size":{"field":"n","type":"quantitative","scale":{"domain":[235,699],"range":[4902,12868],"zero":false},"legend":null}}},
   {"data":{"name":"vlines"},"mark":{"type":"rule","color":"black","strokeWidth":1.5},"encoding":{"x2":{"field":"u2"},"y2":{"field":"w2"}}},
   {"data":{"name":"vlab"},"transform":[{"filter":"datum.kind=='set'"}],"mark":{"type":"text","fontSize":13},"encoding":{"text":{"field":"lbl"}}},
   {"data":{"name":"vlab"},"transform":[{"filter":"datum.kind=='class'"}],"mark":{"type":"text","fontSize":9,"color":"#333333"},"encoding":{"text":{"field":"lbl"}}}
  ]},
 {"width":125,"height":108,"title":{"text":"C","anchor":"start","fontSize":20,"fontWeight":"bold","offset":1},
  "layer":[
   {"data":{"name":"len"},"mark":{"type":"bar","stroke":"black","strokeWidth":1},
    "encoding":{"x":{"field":"reg","type":"nominal","sort":["5'UTR","ORF","3'UTR"],"scale":{"paddingInner":0.27,"paddingOuter":0.15},"axis":{"labelAngle":0,"ticks":false,"tickSize":0,"labelFontSize":10,"labelPadding":4},"title":null},
     "xOffset":{"field":"set","type":"nominal","sort":["RESS","PAR"],"scale":{"paddingInner":0,"paddingOuter":0}},
     "y":{"field":"len","type":"quantitative","scale":{"domain":[0,15],"nice":false},"axis":{"values":[0,5,10,15],"labelFontSize":11},"title":"Length (x 10² nt)"},
     "fill":{"field":"set","type":"nominal","scale":{"domain":["RESS","PAR"],"range":["white","black"]},"legend":{"title":null,"orient":"top-left","offset":6,"padding":0,"symbolType":"square","symbolSize":64,"symbolStrokeColor":"black","symbolStrokeWidth":1,"labelFontSize":12,"rowPadding":2}}}},
   {"data":{"name":"ns"},"mark":{"type":"tick","color":"black","thickness":1,"size":19},"encoding":{"x":{"field":"reg","type":"nominal","sort":["5'UTR","ORF","3'UTR"],"axis":{"labelAngle":0,"ticks":false,"tickSize":0,"labelFontSize":10,"labelPadding":4},"title":null},"y":{"field":"y","type":"quantitative","scale":{"domain":[0,15],"nice":false},"axis":{"values":[0,5,10,15],"labelFontSize":11},"title":"Length (x 10² nt)"}}},
   {"data":{"name":"ns"},"mark":{"type":"text","fontSize":11,"baseline":"bottom","dy":-2},"encoding":{"x":{"field":"reg","type":"nominal","sort":["5'UTR","ORF","3'UTR"],"axis":{"labelAngle":0,"ticks":false,"tickSize":0,"labelFontSize":10,"labelPadding":4},"title":null},"y":{"field":"y","type":"quantitative","scale":{"domain":[0,15],"nice":false},"axis":{"values":[0,5,10,15],"labelFontSize":11},"title":"Length (x 10² nt)"},"text":{"field":"lbl"}}}
  ]},
 {"width":133,"height":108,"title":{"text":"D","anchor":"start","fontSize":20,"fontWeight":"bold","offset":-2},
  "encoding":{"x":{"field":"i","type":"quantitative","scale":{"domain":[0.5,5.5],"nice":false,"zero":false},"axis":{"values":[1,2,3,4,5],"labelExpr":"datum.value == 1 ? 'RESS' : datum.value == 2 ? 'PAR' : datum.value == 3 ? ['PAR','I'] : datum.value == 4 ? ['PAR','II'] : ['PAR','III']","labelOverlap":false,"labelFlush":false,"ticks":false,"tickSize":0,"labelBaseline":"middle","labelPadding":9,"labelFontSize":10,"labelLineHeight":11},"title":null},
   "y":{"field":"v","type":"quantitative","scale":{"domain":[2,8],"nice":false,"zero":false},"axis":{"values":[2,4,6,8],"labelFontSize":11},"title":"mRNA half-lives (hr)"}},
  "layer":[
   {"data":{"name":"hl"},"transform":[{"filter":"datum.p=='D'"}],"mark":{"type":"errorbar","color":"black","thickness":1.2,"ticks":{"size":8,"color":"black"}},"encoding":{"yError":{"field":"e"}}},
   {"data":{"name":"hl"},"transform":[{"filter":"datum.p=='D'"}],"mark":{"type":"bar","size":18,"color":"black"},"encoding":{"y2":{"datum":2}}},
   {"data":{"name":"sig"},"transform":[{"filter":"datum.p=='D'"},{"calculate":"datum.b - datum.a == 1 ? datum.a + 0.03 : datum.a","as":"x1"},{"calculate":"datum.b - datum.a == 1 ? datum.b - 0.13 : datum.b","as":"xe"},{"calculate":"(datum.a + datum.b) / 2","as":"m"}],
    "layer":[
     {"mark":{"type":"rule","color":"#808080","strokeWidth":1},"encoding":{"x":{"field":"x1","type":"quantitative","title":null},"x2":{"field":"xe"},"y":{"field":"y","type":"quantitative","title":"mRNA half-lives (hr)"}}},
     {"mark":{"type":"text","fontSize":12,"baseline":"middle","dy":-3},"encoding":{"x":{"field":"m","type":"quantitative","title":null},"y":{"field":"y","type":"quantitative","title":"mRNA half-lives (hr)"},"text":{"field":"s"}}}
    ]}
  ]},
 {"width":134,"height":108,"title":{"text":"E","anchor":"start","fontSize":20,"fontWeight":"bold","offset":-6},
  "encoding":{"x":{"field":"i","type":"quantitative","scale":{"domain":[0.5,5.5],"nice":false,"zero":false},"axis":{"values":[1,2,3,4,5],"labelExpr":"datum.value == 1 ? 'RESS' : datum.value == 2 ? 'PAR' : datum.value == 3 ? ['PAR','I'] : datum.value == 4 ? ['PAR','II'] : ['PAR','III']","labelOverlap":false,"labelFlush":false,"ticks":false,"tickSize":0,"labelBaseline":"middle","labelPadding":9,"labelFontSize":10,"labelLineHeight":11},"title":null},
   "y":{"field":"v","type":"quantitative","scale":{"domain":[4,12],"nice":false,"zero":false},"axis":{"values":[4,6,8,10,12],"labelFontSize":11},"title":"mRNA half-lives (hr)"}},
  "layer":[
   {"data":{"name":"hl"},"transform":[{"filter":"datum.p=='E'"}],"mark":{"type":"errorbar","color":"black","thickness":1.2,"ticks":{"size":8,"color":"black"}},"encoding":{"yError":{"field":"e"}}},
   {"data":{"name":"hl"},"transform":[{"filter":"datum.p=='E'"}],"mark":{"type":"bar","size":17,"fill":"#7f7f7f","stroke":"black","strokeWidth":1},"encoding":{"y2":{"datum":4}}},
   {"data":{"name":"sig"},"transform":[{"filter":"datum.p=='E'"},{"calculate":"datum.b - datum.a == 1 ? datum.a + 0.03 : datum.a","as":"x1"},{"calculate":"datum.b - datum.a == 1 ? datum.b - 0.13 : datum.b","as":"xe"},{"calculate":"(datum.a + datum.b) / 2","as":"m"}],
    "layer":[
     {"mark":{"type":"rule","color":"#808080","strokeWidth":1},"encoding":{"x":{"field":"x1","type":"quantitative","title":null},"x2":{"field":"xe"},"y":{"field":"y","type":"quantitative","title":"mRNA half-lives (hr)"}}},
     {"mark":{"type":"text","fontSize":12,"baseline":"middle","dy":-3},"encoding":{"x":{"field":"m","type":"quantitative","title":null},"y":{"field":"y","type":"quantitative","title":"mRNA half-lives (hr)"},"text":{"field":"s"}}}
    ]}
  ]}
]}
]
}
